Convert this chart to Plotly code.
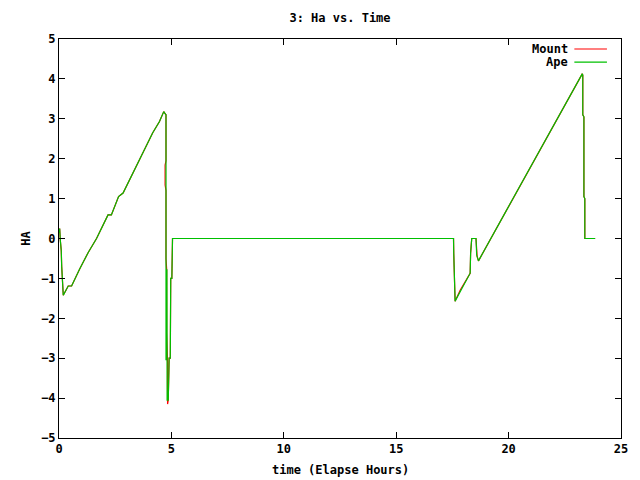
import plotly.graph_objects as go

# Ape series (elapsed hours, HA)
ape_t = [0.0, 0.03, 0.06, 0.10, 0.12, 0.15, 0.19, 0.41, 0.56, 0.93, 1.30, 1.67,
         2.18, 2.33, 2.65, 2.85, 3.36, 3.54, 3.88, 4.17, 4.47, 4.66,
         4.73, 4.76, 4.76, 4.80, 4.81, 4.86, 4.90, 4.95, 4.97, 5.02, 5.05,
         17.55, 17.56, 17.60, 17.62, 18.29, 18.31, 18.36, 18.55, 18.58, 18.60, 18.66,
         19.88, 21.80, 23.27, 23.30, 23.30, 23.35, 23.35, 23.39, 23.39, 23.85]
ape_ha = [0.15, 0.25, -0.05, -0.3, -0.7, -1.1, -1.42, -1.19, -1.19, -0.75, -0.35, 0.0,
          0.59, 0.59, 1.05, 1.14, 1.72, 1.95, 2.35, 2.65, 2.93, 3.18,
          3.12, 3.10, -3.05, -0.77, -4.05, -4.05, -3.0, -3.0, -1.0, -1.0, 0.0,
          0.0, -0.37, -1.18, -1.57, -0.87, -0.37, 0.0, 0.0, -0.41, -0.45, -0.56,
          0.68, 2.63, 4.12, 4.10, 3.10, 3.05, 1.05, 1.0, 0.0, 0.0]

# Mount series
mount_t = [0.0, 0.03, 0.06, 0.10, 0.12, 0.15, 0.19, 0.41, 0.56, 0.93, 1.30, 1.67,
           2.18, 2.33, 2.65, 2.85, 3.36, 3.54, 3.88, 4.17, 4.47, 4.66,
           4.73, 4.76, 4.76, 4.72, 4.72, 4.76, 4.76, 4.79, 4.79, 4.80, 4.80, 4.83, 4.83, 4.86,
           4.90, 4.95, 4.97, 5.02, 5.05,
           17.55, 17.56, 17.60, 17.62, 17.85, 18.29, 18.31, 18.36, 18.55, 18.58, 18.60, 18.66,
           19.88, 21.80, 23.27, 23.30, 23.30, 23.35, 23.35, 23.39, 23.39, 23.85]
mount_ha = [0.15, 0.25, -0.05, -0.3, -0.7, -1.1, -1.42, -1.19, -1.19, -0.75, -0.35, 0.0,
            0.59, 0.59, 1.05, 1.14, 1.72, 1.95, 2.35, 2.65, 2.93, 3.18,
            3.12, 3.10, 1.95, 1.84, 1.34, 1.2, -0.5, -0.77, -2.35, -2.6, -3.0, -3.1, -4.15, -4.05,
            -3.0, -3.0, -1.0, -1.0, 0.0,
            0.0, -0.37, -1.18, -1.57, -1.29, -0.87, -0.37, 0.0, 0.0, -0.41, -0.45, -0.56,
            0.68, 2.63, 4.12, 4.10, 3.10, 3.05, 1.05, 1.0, 0.0, 0.0]

x_ticks = [0, 5, 10, 15, 20, 25]
y_ticks = [-5, -4, -3, -2, -1, 0, 1, 2, 3, 4, 5]

series_names = ["Mount", "Ape"]
series_colors = ["#ff0000", "#00c000"]

FONT = "DejaVu Sans Mono"
LW = 1.2

fig = go.Figure()
fig.add_trace(go.Scatter(x=mount_t, y=mount_ha, mode="lines", name=series_names[0],
                         line=dict(color=series_colors[0], width=LW), showlegend=False))
fig.add_trace(go.Scatter(x=ape_t, y=ape_ha, mode="lines", name=series_names[1],
                         line=dict(color=series_colors[1], width=LW), showlegend=False))

axis_common = dict(showgrid=False, zeroline=False, showline=True, linecolor="black",
                   linewidth=1, mirror="allticks", ticks="inside", ticklen=6,
                   tickcolor="black", tickfont=dict(family=FONT, size=12, color="black",
                                                    weight="bold"))
fig.update_xaxes(range=[0, 25], tickvals=x_ticks, **axis_common)
fig.update_yaxes(range=[-5, 5], tickvals=y_ticks, **axis_common)

# gnuplot-style legend: text right-aligned, sample line to the right
legend_rows = [0.975, 0.942]
shapes = []
annotations = []
for name, color, yy in zip(series_names, series_colors, legend_rows):
    annotations.append(dict(text="<b>" + name + "</b>", xref="paper", yref="paper",
                            x=0.91, y=yy, xanchor="right", yanchor="middle",
                            showarrow=False, font=dict(family=FONT, size=12, color="black")))
    shapes.append(dict(type="line", xref="paper", yref="paper", x0=0.917, x1=0.975,
                       y0=yy, y1=yy, line=dict(color=color, width=LW)))

annotations.append(dict(text="<b>time (Elapse Hours)</b>", xref="paper", yref="paper",
                        x=0.5, y=-0.08, xanchor="center", yanchor="middle", yshift=0,
                        showarrow=False, font=dict(family=FONT, size=12, color="black")))
annotations.append(dict(text="<b>HA</b>", xref="paper", yref="paper", x=-0.06, y=0.5,
                        xanchor="center", yanchor="middle", textangle=-90,
                        showarrow=False, font=dict(family=FONT, size=12, color="black")))

fig.update_layout(
    width=640, height=480,
    margin=dict(l=59, r=16, t=39, b=42),
    paper_bgcolor="white", plot_bgcolor="white",
    title=dict(text="<b>3: Ha vs. Time</b>", x=0.5, xref="paper", y=1 - 18 / 480,
               yref="container", xanchor="center", yanchor="middle",
               font=dict(family=FONT, size=12, color="black")),
    shapes=shapes, annotations=annotations,
)

fig.write_html("out.html")
